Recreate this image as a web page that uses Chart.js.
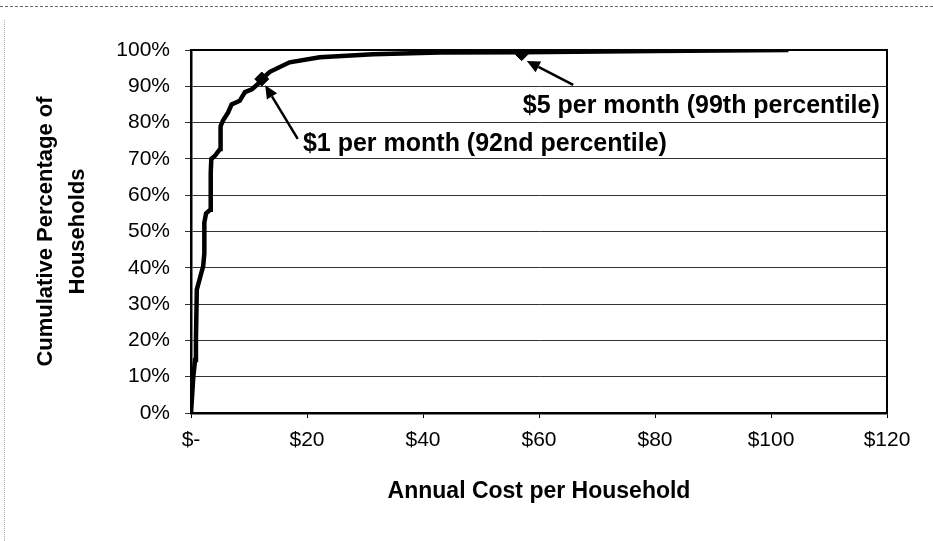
<!DOCTYPE html>
<html>
<head>
<meta charset="utf-8">
<script src="https://cdn.jsdelivr.net/npm/chart.js@4.4.1/dist/chart.umd.min.js"></script>
<style>
  html, body { margin: 0; padding: 0; background: #fff; }
  #wrap { position: relative; width: 933px; height: 541px; overflow: hidden; }
  #wrap canvas { position: absolute; left: 0; top: 0; }
  #topRule { position: absolute; left: 0; top: 6px; width: 933px; border-top: 1px dashed #666; }
  #leftRule { position: absolute; left: 4px; top: 20px; height: 521px; border-left: 1px dotted #aaa; }
</style>
</head>
<body>
<div id="wrap">
  <canvas id="costChart" width="933" height="541"></canvas>
  <div id="topRule"></div>
  <div id="leftRule"></div>
</div>
<script>
// annual cost per household ($) vs cumulative % of households
const costValues    = [0, 0.4, 0.7, 0.85, 1.0, 1.8, 2.1, 2.3, 2.3, 2.6, 3.3, 3.4, 3.5, 4.1, 5.0, 5.1, 5.5, 6.4, 7.0, 8.4, 9.3, 10.5, 11.5, 12.2, 13.6, 17, 22.2, 31.4, 42.9, 57, 80, 103];
const cumulativePct = [0, 10, 14.6, 20, 34, 38.7, 40.5, 44, 52.5, 55, 56, 66, 70, 70.8, 72.7, 79, 80.5, 82.8, 85, 86, 88.4, 89.2, 90.6, 92, 94, 96.6, 98, 98.8, 99.3, 99.4, 99.7, 100];

const markerCosts = [12.2, 57];
const markerPct   = [92, 99];

const xTickLabels = ['$-', '$20', '$40', '$60', '$80', '$100', '$120'];
const yTickLabels = ['0%', '10%', '20%', '30%', '40%', '50%', '60%', '70%', '80%', '90%', '100%'];

const calloutTexts = ['$1 per month (92nd percentile)', '$5 per month (99th percentile)'];

// where the callout text and arrows sit, in data units
const callouts = [
  { text: calloutTexts[0], textAt: [19.3, 74], from: [18.4, 75.5], to: [12.8, 90.3] },
  { text: calloutTexts[1], textAt: [57.2, 84.6], from: [65.9, 90.4], to: [57.9, 97] }
];

const calloutPlugin = {
  id: 'callouts',
  afterDatasetsDraw(chart) {
    const { ctx, chartArea, scales: { x, y } } = chart;
    ctx.save();
    // top and right frame
    ctx.strokeStyle = '#000';
    ctx.lineWidth = 2;
    ctx.beginPath();
    ctx.moveTo(chartArea.left, chartArea.top);
    ctx.lineTo(chartArea.right, chartArea.top);
    ctx.lineTo(chartArea.right, chartArea.bottom);
    ctx.stroke();

    callouts.forEach(c => {
      const x0 = x.getPixelForValue(c.from[0]), y0 = y.getPixelForValue(c.from[1]);
      const x1 = x.getPixelForValue(c.to[0]), y1 = y.getPixelForValue(c.to[1]);
      const ang = Math.atan2(y1 - y0, x1 - x0);
      const len = 13, half = 6;
      const bx = x1 - len * Math.cos(ang), by = y1 - len * Math.sin(ang);
      ctx.lineWidth = 2.5;
      ctx.beginPath();
      ctx.moveTo(x0, y0);
      ctx.lineTo(bx, by);
      ctx.stroke();
      ctx.fillStyle = '#000';
      ctx.beginPath();
      ctx.moveTo(x1, y1);
      ctx.lineTo(bx + half * Math.sin(ang), by - half * Math.cos(ang));
      ctx.lineTo(bx - half * Math.sin(ang), by + half * Math.cos(ang));
      ctx.closePath();
      ctx.fill();

      ctx.font = 'bold 25px "Liberation Sans", Arial, sans-serif';
      ctx.textAlign = 'left';
      ctx.textBaseline = 'middle';
      ctx.fillText(c.text, x.getPixelForValue(c.textAt[0]), y.getPixelForValue(c.textAt[1]));
    });
    ctx.restore();
  }
};

const ctx = document.getElementById('costChart');
new Chart(ctx, {
  type: 'scatter',
  data: {
    datasets: [
      {
        label: 'Cumulative',
        data: costValues.map((v, i) => ({ x: v, y: cumulativePct[i] })),
        showLine: true,
        borderColor: '#000',
        borderWidth: 4.5,
        pointRadius: 0,
        tension: 0,
        order: 2
      },
      {
        label: 'Markers',
        data: markerCosts.map((v, i) => ({ x: v, y: markerPct[i] })),
        pointStyle: 'rectRot',
        pointRadius: 7,
        backgroundColor: '#000',
        borderColor: '#000',
        order: 1
      }
    ]
  },
  options: {
    responsive: false,
    animation: false,
    layout: { padding: { left: 0, top: 50, right: 46, bottom: 0 } },
    plugins: {
      legend: { display: false },
      tooltip: { enabled: false }
    },
    scales: {
      x: {
        type: 'linear',
        min: 0,
        max: 120,
        afterFit(scale) { scale.height = 128; },
        border: { color: '#000', width: 2.5 },
        grid: { drawOnChartArea: false, drawTicks: true, tickLength: 5, color: '#000' },
        ticks: {
          stepSize: 20,
          padding: 10,
          color: '#000',
          font: { family: '"Liberation Sans", Arial, sans-serif', size: 21 },
          callback: (v, i) => xTickLabels[i]
        },
        title: {
          display: true,
          text: 'Annual Cost per Household',
          color: '#000',
          font: { family: '"Liberation Sans", Arial, sans-serif', size: 23, weight: 'bold' },
          padding: { top: 0, bottom: 36 }
        }
      },
      y: {
        min: 0,
        max: 100,
        afterFit(scale) { scale.width = 191; },
        border: { color: '#000', width: 2.5 },
        grid: { color: '#333', lineWidth: 1, tickLength: 6 },
        ticks: {
          stepSize: 10,
          padding: 15,
          color: '#000',
          font: { family: '"Liberation Sans", Arial, sans-serif', size: 21 },
          callback: (v, i) => yTickLabels[i]
        },
        title: {
          display: true,
          text: ['Cumulative Percentage of', 'Households'],
          color: '#000',
          font: { family: '"Liberation Sans", Arial, sans-serif', size: 22, weight: 'bold', lineHeight: 1.4545 },
          padding: { top: 30, bottom: 0 }
        }
      }
    }
  },
  plugins: [calloutPlugin]
});
</script>
</body>
</html>
